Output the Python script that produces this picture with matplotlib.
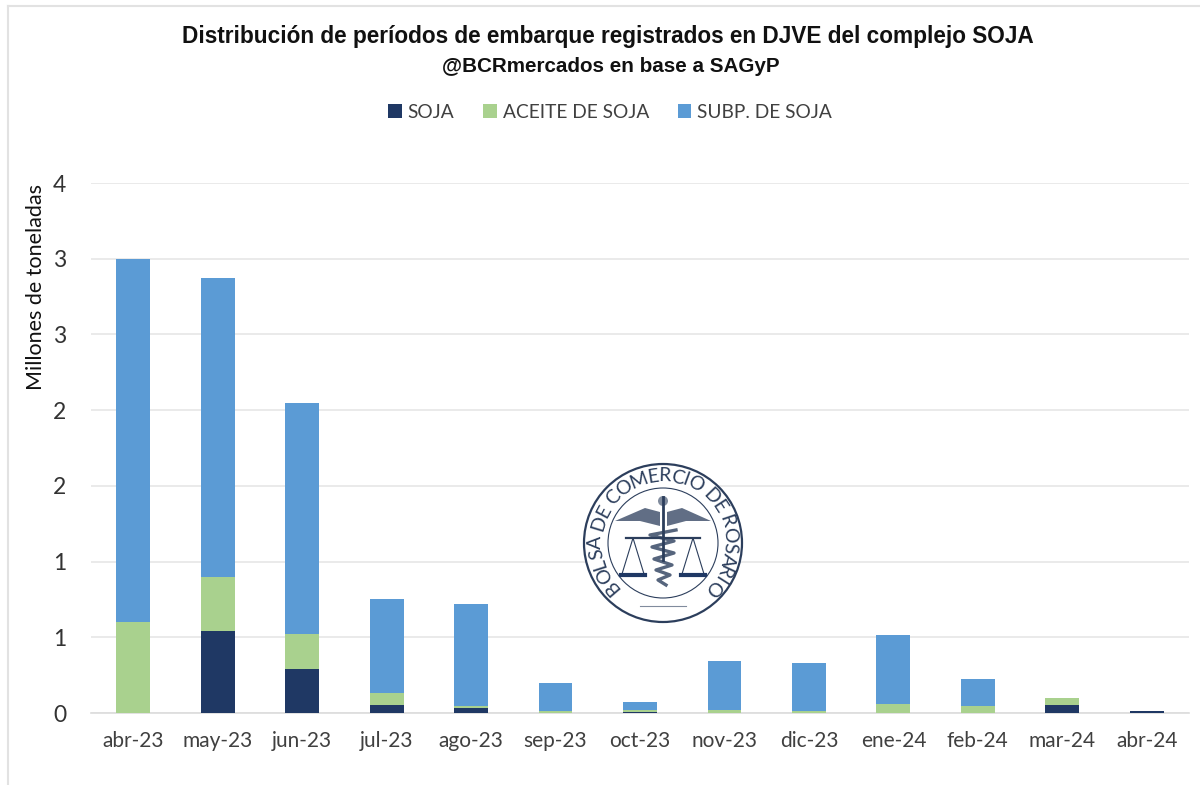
import numpy as np
import matplotlib
matplotlib.use("Agg")
import matplotlib.pyplot as plt
from matplotlib.font_manager import FontProperties
from matplotlib.lines import Line2D
from matplotlib.patches import Circle, Polygon
from matplotlib.textpath import TextPath

meses = ["abr-23", "may-23", "jun-23", "jul-23", "ago-23", "sep-23", "oct-23",
         "nov-23", "dic-23", "ene-24", "feb-24", "mar-24", "abr-24"]
soja = [0, 0.54, 0.29, 0.05, 0.03, 0, 0.005, 0, 0, 0, 0, 0.055, 0.012]
aceite = [0.60, 0.36, 0.23, 0.08, 0.015, 0.01, 0.015, 0.02, 0.01, 0.06, 0.045, 0.045, 0]
subp = [2.40, 1.97, 1.53, 0.62, 0.675, 0.19, 0.05, 0.325, 0.32, 0.455, 0.18, 0, 0.004]
y_ticks = [0, 0.5, 1, 1.5, 2, 2.5, 3, 3.5]
y_labels = ["0", "1", "1", "2", "2", "3", "3", "4"]

W, H = 1200, 785
TEXTO = ["Lato", "DejaVu Sans"]
AZUL = "#1f3864"
VERDE = "#a9d18e"
CELESTE = "#5b9bd5"

fig = plt.figure(figsize=(W / 100, H / 100), dpi=100)
ax = fig.add_axes([91 / W, 1 - 713 / H, 1098 / W, 530 / H])

x = np.arange(len(meses))
soja_a = np.array(soja)
aceite_a = np.array(aceite)
ax.bar(x, soja, width=0.4, color=AZUL, label="SOJA", zorder=3)
ax.bar(x, aceite, width=0.4, bottom=soja_a, color=VERDE, label="ACEITE DE SOJA", zorder=3)
ax.bar(x, subp, width=0.4, bottom=soja_a + aceite_a, color=CELESTE, label="SUBP. DE SOJA", zorder=3)

ax.set_xlim(-0.5, len(meses) - 0.5)
ax.set_ylim(0, 3.5)
ax.set_xticks(x, meses, family=TEXTO, fontsize=15, color="#404040")
ax.set_yticks(y_ticks, y_labels, family=TEXTO, fontsize=16.5, color="#333333")
ax.tick_params(length=0)
ax.tick_params(axis="x", pad=13)
ax.tick_params(axis="y", pad=18)
ax.grid(axis="y", color="#e6e6e6", lw=1.2, zorder=0)
ax.set_axisbelow(True)
for s in ax.spines.values():
    s.set_visible(False)
ax.spines["bottom"].set_visible(True)
ax.spines["bottom"].set_color("#dcdcdc")
ax.spines["bottom"].set_linewidth(1.2)

fig.text(36 / W, 1 - 287 / H, "Millones de toneladas", rotation=90, ha="center", va="center",
         family=TEXTO, fontsize=15.5, color="#111111")
fig.text(608 / W, 1 - 36 / H, "Distribución de períodos de embarque registrados en DJVE del complejo SOJA",
         ha="center", va="center", family="Liberation Sans", fontweight="bold", fontsize=16.3, color="#111111")
fig.text(611 / W, 1 - 66 / H, "@BCRmercados en base a SAGyP",
         ha="center", va="center", family="Liberation Sans", fontweight="bold", fontsize=14.9, color="#111111")

fig.legend(loc="center", bbox_to_anchor=(610 / W, 1 - 112 / H), ncol=3, frameon=False,
           prop={"family": TEXTO, "size": 13.8}, labelcolor="#404040", handlelength=0.72,
           handleheight=0.72, handletextpad=0.3, columnspacing=1.5)

# borde gris arriba y a la izquierda
fig.add_artist(Line2D([8 / W, 8 / W], [0, 1 - 6 / H], color="#e2e2e2", lw=1.5))
fig.add_artist(Line2D([8 / W, 1], [1 - 6 / H, 1 - 6 / H], color="#e2e2e2", lw=1.5))

# sello de la bolsa, dibujado en pixeles
logo = fig.add_axes([0, 0, 1, 1], facecolor="none", zorder=5)
logo.set_xlim(0, W)
logo.set_ylim(H, 0)
logo.axis("off")
TINTA = "#2c3e5c"
cx, cy = 663, 543
logo.add_patch(Circle((cx, cy), 79, fc="white", ec=TINTA, lw=1.6))
logo.add_patch(Circle((cx, cy), 55, fc="none", ec=TINTA, lw=0.8))

leyenda = "BOLSA DE COMERCIO DE ROSARIO"
fp = FontProperties(family="Lato", size=14)
anchos = np.array([TextPath((0, 0), "n" + c + "n", prop=fp).get_extents().width
                   - TextPath((0, 0), "nn", prop=fp).get_extents().width for c in leyenda])
centros = (np.cumsum(anchos) - anchos / 2) / anchos.sum()
angulos = 226 - 274 * centros
for letra, a in zip(leyenda, angulos):
    r = np.deg2rad(a)
    logo.text(cx + 67 * np.cos(r), cy - 67 * np.sin(r), letra, rotation=a - 90,
              rotation_mode="anchor", ha="center", va="center",
              family=TEXTO, fontsize=14, color=TINTA)

# alas
logo.add_patch(Polygon([(660, 512), (645, 508), (615, 521), (640, 521), (660, 526)], fc=TINTA, ec="none", alpha=0.75))
logo.add_patch(Polygon([(667, 512), (682, 508), (711, 521), (686, 521), (667, 526)], fc=TINTA, ec="none", alpha=0.75))
# vara y serpiente
logo.plot([663, 663], [497, 560], color=TINTA, lw=2)
logo.add_patch(Circle((663, 501), 5, fc=TINTA, ec="none", alpha=0.6))
serp_x = [676, 650, 674, 652, 674, 654, 672, 656, 670, 658, 666]
serp_y = [530, 535, 541, 547, 553, 559, 565, 570, 575, 580, 585]
logo.plot(serp_x, serp_y, color=TINTA, lw=2.4, alpha=0.8)
# balanza
logo.plot([626, 700], [538, 538], color=TINTA, lw=1.6)
for c in (633, 693):
    logo.plot([c, c - 11, c + 11, c], [538, 574, 574, 538], color=TINTA, lw=0.8)
    logo.plot([c - 12, c + 12], [575, 575], color=AZUL, lw=3)
logo.plot([640, 686], [606, 606], color=TINTA, lw=0.8, alpha=0.6)

fig.savefig("out.png", dpi=100, facecolor="white")
